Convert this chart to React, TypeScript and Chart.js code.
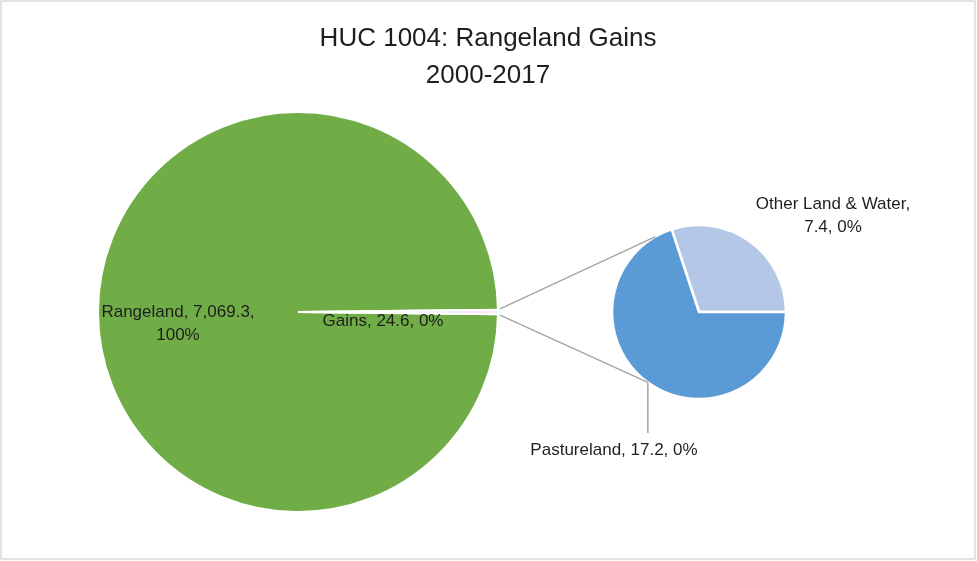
import { useEffect, useRef } from "react";
import { Chart, registerables } from "chart.js";

Chart.register(...registerables);

// ---- data ----
const titleLines = ["HUC 1004: Rangeland Gains", "2000-2017"];
const mainLabels = ["Rangeland", "Gains"];
const mainValues = [7069.3, 24.6];
const secondaryLabels = ["Other Land & Water", "Pastureland"];
const secondaryValues = [7.4, 17.2];

// ---- styles ----
const mainColors = ["#70AD47", "#EEEEEE"];
const secondaryColors = ["#B4C7E7", "#5B9BD5"];
const W = 977;
const H = 561;
const FONT = "'Liberation Sans', Arial, sans-serif";
const TEXT = "#1e1e1e";
const LINE = "#A6A6A6";

const total = mainValues.reduce((a, b) => a + b, 0);
const fmt = (v: number) =>
  v.toLocaleString("en-US", { minimumFractionDigits: 1, maximumFractionDigits: 1 });
const pct = (v: number) => Math.round((v / total) * 100) + "%";

export default function App() {
  const c1 = useRef<HTMLCanvasElement>(null);
  const c2 = useRef<HTMLCanvasElement>(null);

  useEffect(() => {
    const gainsDeg = (mainValues[1] / total) * 360;
    const otherDeg = (secondaryValues[0] / secondaryValues.reduce((a, b) => a + b, 0)) * 360;

    const bgPlugin = {
      id: "bg",
      beforeDraw(chart: any) {
        const ctx = chart.ctx;
        ctx.save();
        ctx.fillStyle = "#ffffff";
        ctx.fillRect(0, 0, W, H);
        ctx.strokeStyle = "#D9D9D9";
        ctx.lineWidth = 1.5;
        ctx.strokeRect(1, 1, W - 3, H - 3);
        ctx.restore();
      },
    };

    const chart1 = new Chart(c1.current!, {
      type: "pie",
      data: {
        labels: mainLabels,
        datasets: [
          {
            data: mainValues,
            backgroundColor: mainColors,
            borderColor: "#ffffff",
            borderWidth: 2,
          },
        ],
      },
      options: {
        responsive: false,
        animation: false,
        devicePixelRatio: 1,
        rotation: 90 + gainsDeg / 2,
        radius: 200,
        layout: { padding: { left: 0, right: 381, top: 63, bottom: 0 } },
        plugins: { legend: { display: false }, tooltip: { enabled: false }, title: { display: false } },
        events: [],
      } as any,
      plugins: [bgPlugin],
    });

    const overlay = {
      id: "overlay",
      afterDraw(chart: any) {
        const ctx = chart.ctx;
        const gains = chart1.getDatasetMeta(0).data[1] as any;
        const sec = chart.getDatasetMeta(0).data[0] as any;
        const mx = gains.x, my = gains.y, mr = gains.outerRadius;
        const sx = sec.x, sy = sec.y, sr = sec.outerRadius;
        const d = Math.PI / 180;
        const p1 = [mx + mr * Math.cos(gains.startAngle), my + mr * Math.sin(gains.startAngle)];
        const p2 = [mx + mr * Math.cos(gains.endAngle), my + mr * Math.sin(gains.endAngle)];
        const q1 = [sx + sr * Math.cos(-120 * d), sy + sr * Math.sin(-120 * d)];
        const q2 = [sx + sr * Math.cos(126 * d), sy + sr * Math.sin(126 * d)];
        ctx.save();
        ctx.strokeStyle = LINE;
        ctx.lineWidth = 1.5;
        ctx.beginPath();
        ctx.moveTo(p1[0] + 2, p1[1] - 1);
        ctx.lineTo(q1[0], q1[1]);
        ctx.moveTo(p2[0] + 2, p2[1] + 1);
        ctx.lineTo(q2[0], q2[1]);
        ctx.moveTo(q2[0], q2[1]);
        ctx.lineTo(q2[0], 433);
        ctx.stroke();

        // title
        ctx.fillStyle = TEXT;
        ctx.textAlign = "center";
        ctx.textBaseline = "alphabetic";
        ctx.font = `26px ${FONT}`;
        ctx.fillText(titleLines[0], 488, 46);
        ctx.fillText(titleLines[1], 488, 83);

        // data labels
        ctx.font = `17px ${FONT}`;
        const labels: [string[], number, number][] = [
          [[`${mainLabels[0]}, ${fmt(mainValues[0])},`, pct(mainValues[0])], mx - 120, 317],
          [[`${mainLabels[1]}, ${fmt(mainValues[1])}, ${pct(mainValues[1])}`], mx + 85, 326],
          [[`${secondaryLabels[0]},`, `${fmt(secondaryValues[0])}, ${pct(secondaryValues[0])}`], sx + 134, 209],
          [[`${secondaryLabels[1]}, ${fmt(secondaryValues[1])}, ${pct(secondaryValues[1])}`], sx - 85, 455],
        ];
        for (const [lines, x, y] of labels) {
          lines.forEach((t, i) => ctx.fillText(t, x, y + i * 23));
        }
        ctx.restore();
      },
    };

    const chart2 = new Chart(c2.current!, {
      type: "pie",
      data: {
        labels: secondaryLabels,
        datasets: [
          {
            data: secondaryValues,
            backgroundColor: secondaryColors,
            borderColor: "#ffffff",
            borderWidth: 2.5,
          },
        ],
      },
      options: {
        responsive: false,
        animation: false,
        devicePixelRatio: 1,
        rotation: 90 - otherDeg,
        radius: 87,
        layout: { padding: { left: 421, right: 0, top: 63, bottom: 0 } },
        plugins: { legend: { display: false }, tooltip: { enabled: false }, title: { display: false } },
        events: [],
      } as any,
      plugins: [overlay],
    });

    return () => {
      chart2.destroy();
      chart1.destroy();
    };
  }, []);

  return (
    <div style={{ position: "fixed", left: 0, top: 0, width: W, height: H, background: "#fff" }}>
      <canvas ref={c1} width={W} height={H} style={{ position: "absolute", left: 0, top: 0, width: W, height: H }} />
      <canvas ref={c2} width={W} height={H} style={{ position: "absolute", left: 0, top: 0, width: W, height: H }} />
    </div>
  );
}
